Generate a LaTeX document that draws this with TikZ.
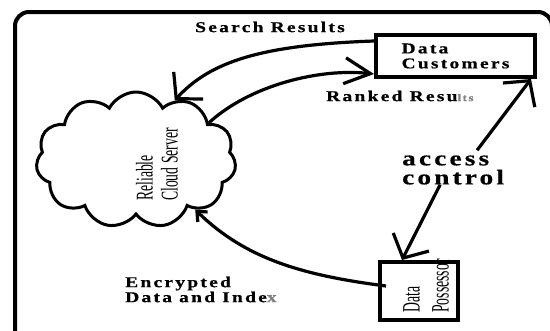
\documentclass[tikz,border=0pt]{standalone}
\usepackage{fontspec}
\usepackage{graphicx}
\setmainfont{Liberation Serif}
\newfontfamily\lblfont[FakeStretch=1.3, LetterSpace=15, FakeBold=0.6]{Liberation Serif}
\usetikzlibrary{shapes.symbols,arrows.meta,calc}
\tikzset{
  conn/.style={line width=3.2pt},
  box/.style={draw, line width=4pt, inner sep=0pt},
  lbl/.style={font=\lblfont\bfseries\fontsize{15}{15}\selectfont, inner sep=0pt, align=left, anchor=west},
  biglbl/.style={font=\lblfont\bfseries\fontsize{21}{19}\selectfont, inner sep=0pt, align=left, anchor=west},
  rottxt/.style={rotate=90, inner sep=0pt, align=left, anchor=west},
  bigtip/.style={-{Straight Barb[length=18pt,width=40pt]}},
}
\begin{document}
\begin{tikzpicture}[x=1pt,y=-1pt]
\useasboundingbox (0,0) rectangle (550,330);
\clip (0,0) rectangle (550,330);
% frame
\draw[line width=4pt, rounded corners=14pt] (15,12) rectangle (552,346);
% cloud
\node[cloud, draw, line width=3pt, cloud puffs=11, cloud puff arc=125, aspect=1.45, minimum width=200pt, minimum height=136pt, inner sep=0pt] (server) at (136,160) {};
\node[rottxt, font=\fontsize{24}{25}\selectfont] (srvtext) at (157,201) {\scalebox{0.57}[1]{Reliable}\\\scalebox{0.57}[1]{Cloud Server}};
% boxes
\node[box, lbl, anchor=center, minimum width=159pt, minimum height=42pt] (dc) at (455.5,56) {Data\\Customers};
\node[box, minimum width=78pt, minimum height=58pt] (ps) at (419,291) {};
\node[rottxt, font=\fontsize{25}{29}\selectfont] (pstext) at (426,313) {\scalebox{0.55}[1]{Data}\\\scalebox{0.55}[1]{Possessor}};
% labels
\node[lbl] (sr) at (195,27) {Search Results};
\node[lbl] (rr) at (326,96) {Ranked Resu{\fontsize{10}{10}\selectfont\color{gray}lts}};
\node[biglbl] (acc) at (402,170) {access\\control};
\node[lbl] (enc) at (125,289.5) {Encrypted\\Data and Inde{\color{gray}x}};
% connectors
\draw[conn, bigtip] ([yshift=-8pt]dc.north west) .. controls (260,45) and (210,62) .. (server.57);
\draw[conn, -{Straight Barb[length=26pt,width=26pt]}] (server.27) .. controls (250,85) and (320,68) .. ([yshift=5pt]dc.south west);
\draw[conn, bigtip] ([shift={(24pt,5pt)}]acc.north) -- ([xshift=-6pt]dc.south east);
\draw[conn, bigtip] ([xshift=-13pt]acc.south) -- ([xshift=-17pt]ps.north);
\draw[conn, -{Straight Barb[length=8pt,width=14pt]}] ([shift={(8pt,5pt)}]ps.west) .. controls (300,275) and (245,258) .. (server.-40);
\end{tikzpicture}
\end{document}
